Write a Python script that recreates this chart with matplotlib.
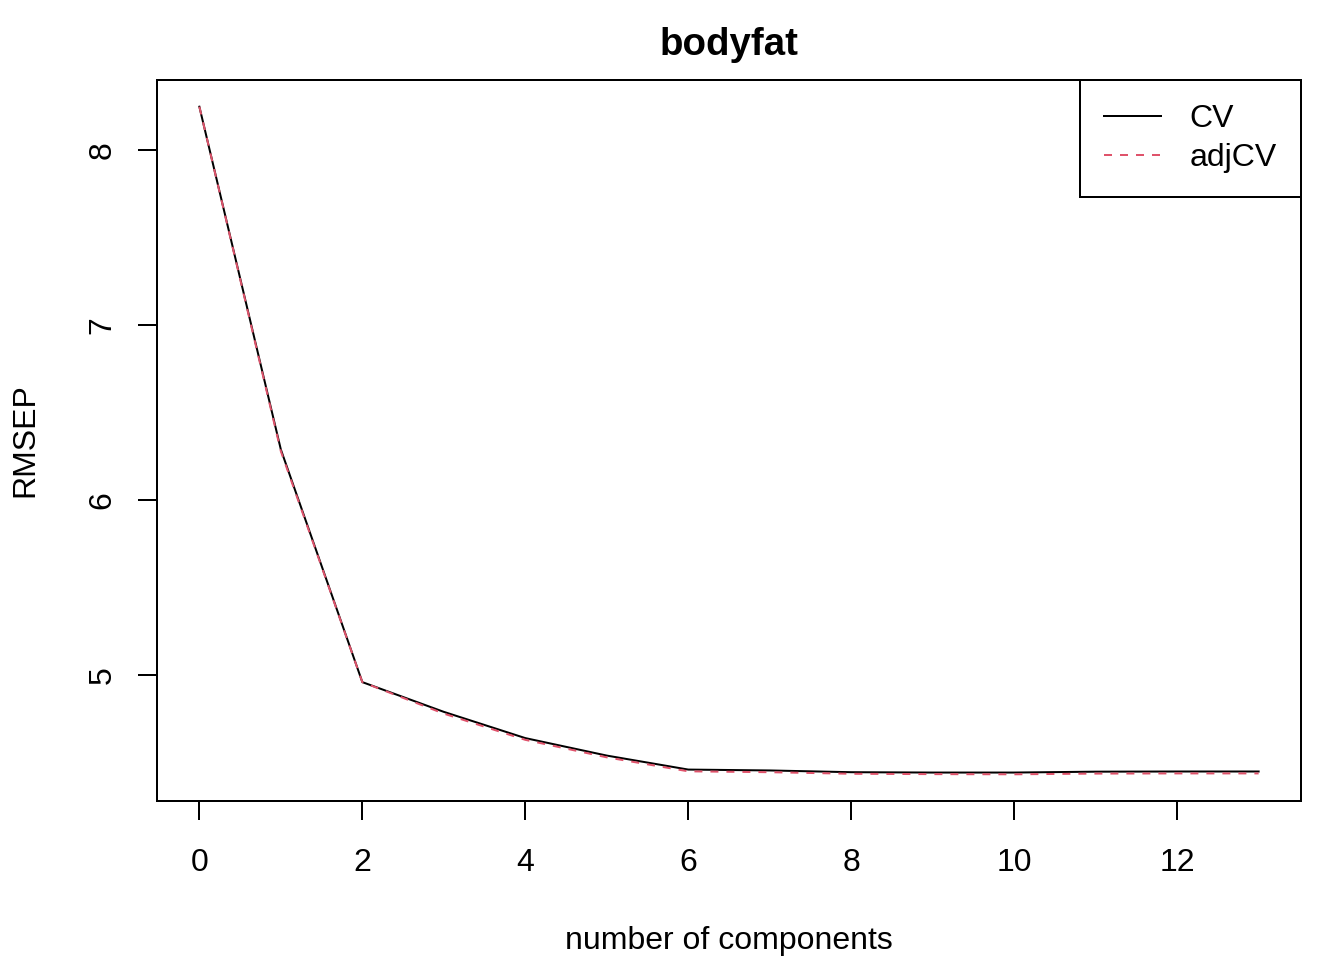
import matplotlib
matplotlib.use("Agg")
import matplotlib.pyplot as plt
import numpy as np

plt.rcParams['font.family'] = ['Liberation Sans', 'DejaVu Sans']

components = list(range(14))
cv = [8.25, 6.29, 4.96, 4.79, 4.64, 4.54, 4.46, 4.455, 4.445, 4.443, 4.443, 4.448, 4.449, 4.449]
adjcv = [8.25, 6.28, 4.96, 4.78, 4.63, 4.53, 4.45, 4.445, 4.436, 4.434, 4.433, 4.437, 4.438, 4.438]
xticks = [0, 2, 4, 6, 8, 10, 12]
yticks = [5, 6, 7, 8]

fig = plt.figure(figsize=(7, 5), dpi=192)
ax = fig.add_axes([157/1344, 1-801/960, (1301-157)/1344, (801-80)/960])

ax.plot(components, cv, color='black', lw=0.75, label='CV')
ax.plot(components, adjcv, color='#DF536B', lw=0.75, dashes=(4, 4), label='adjCV')

ymin = min(min(cv), min(adjcv)); ymax = max(max(cv), max(adjcv))
r = ymax - ymin
ax.set_ylim(ymin - 0.04*r, ymax + 0.04*r)
ax.set_xlim(-0.04*13, 13*1.04)

ax.set_xticks(xticks)
ax.set_yticks(yticks)
for s in ax.spines.values():
    s.set_linewidth(0.75)
ax.tick_params(axis='both', length=7.2, width=0.75, labelsize=12)
ax.tick_params(axis='x', pad=10.5)
ax.tick_params(axis='y', pad=7.6)
for lab in ax.get_yticklabels():
    lab.set_rotation(90)
    lab.set_va('center')

ax.set_title('bodyfat', fontsize=14.4, fontweight='bold', pad=9.4)
ax.set_xlabel('number of components', fontsize=12, labelpad=18)
ax.set_ylabel('RMSEP', fontsize=12, labelpad=17.5)

leg = ax.legend(loc='upper right', fontsize=12, borderaxespad=0, fancybox=False,
                edgecolor='black', framealpha=1, handlelength=1.78, handletextpad=0.9,
                borderpad=0.75, labelspacing=0.28)
leg.get_frame().set_linewidth(0.75)

fig.savefig('out.png', dpi=192)
